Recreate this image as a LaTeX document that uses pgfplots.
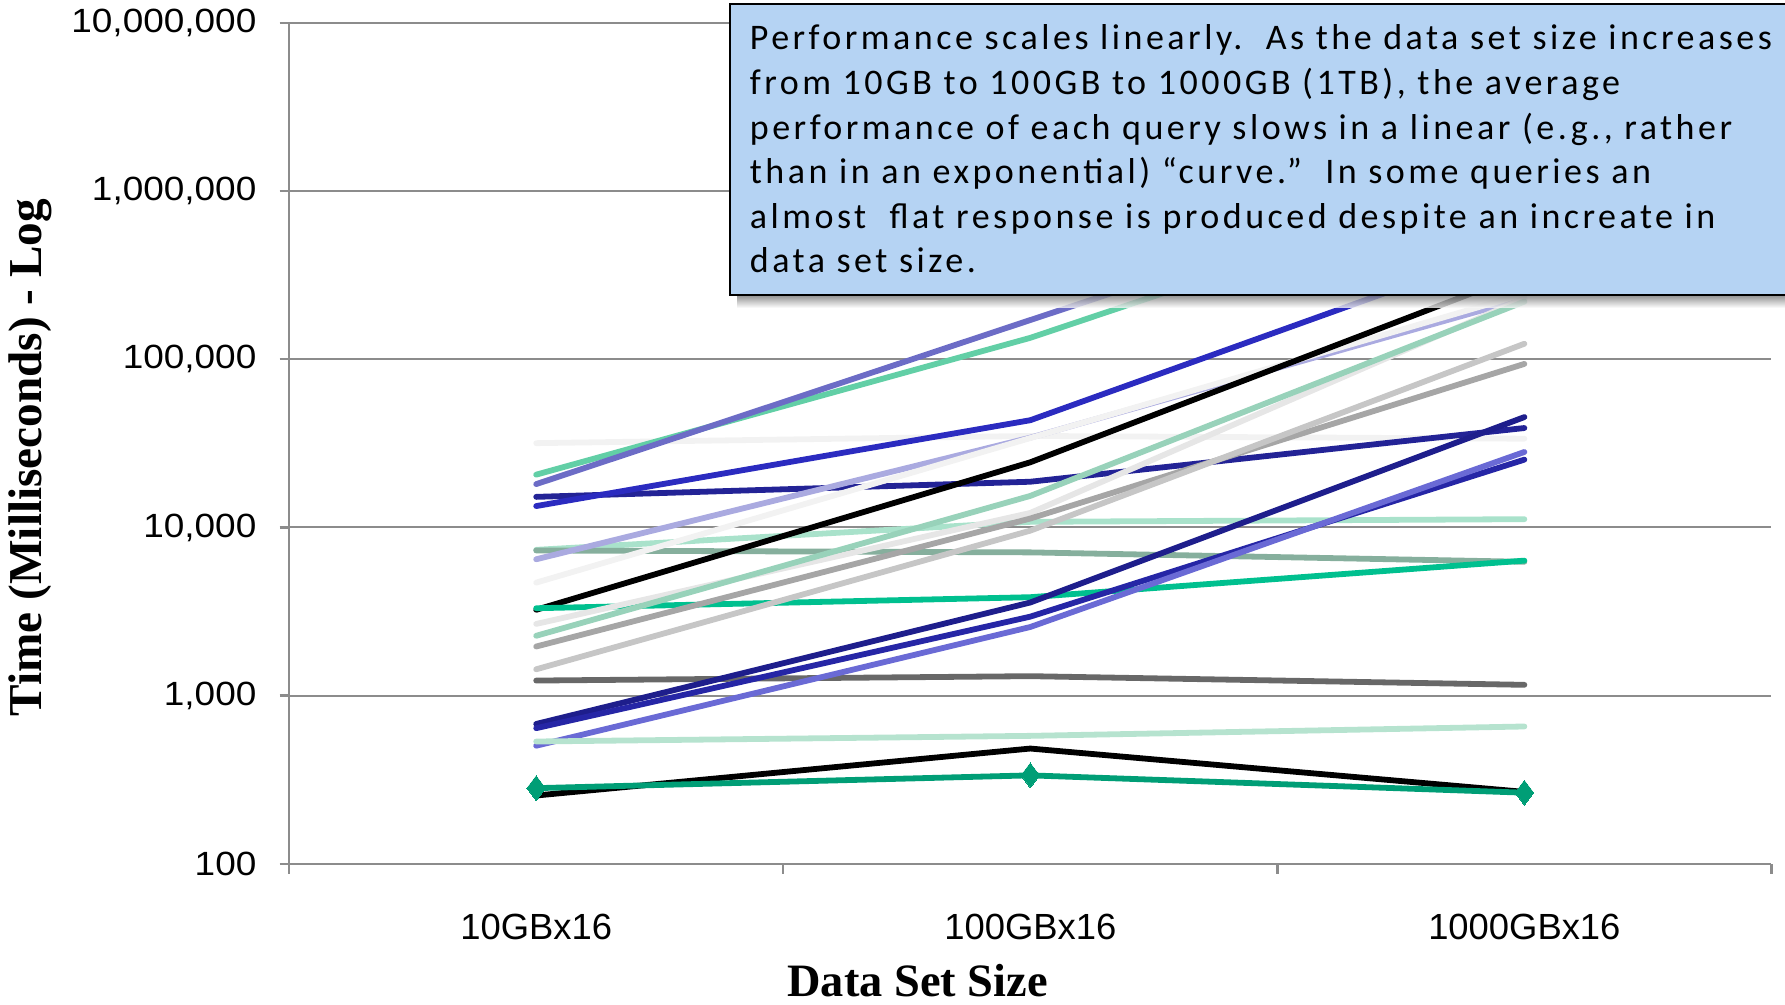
\documentclass[border=0pt]{standalone}
\usepackage{pgfplots}
\pgfplotsset{compat=1.18}
\usepackage{fontspec}
\setmainfont{Liberation Serif}
\newfontfamily\arial{Liberation Sans}
\newfontfamily\arialwide[FakeStretch=1.1]{Liberation Sans}
\newfontfamily\calibri[LetterSpace=9.7]{Carlito}

\definecolor{nearwhite}{HTML}{F2F2F2}
\definecolor{mintgreen}{HTML}{62CFA6}
\definecolor{slate}{HTML}{6C6CC6}
\definecolor{navyflat}{HTML}{232396}
\definecolor{royal}{HTML}{2B2BC0}
\definecolor{lightmint}{HTML}{A9E2CB}
\definecolor{graygreen}{HTML}{86AF9D}
\definecolor{lavender}{HTML}{AAAAE0}
\definecolor{teal}{HTML}{00C08F}
\definecolor{lightgray}{HTML}{E6E6E6}
\definecolor{midmint}{HTML}{98D2BA}
\definecolor{midgray}{HTML}{A6A6A6}
\definecolor{silver}{HTML}{C6C6C6}
\definecolor{darkgray}{HTML}{686868}
\definecolor{navy}{HTML}{1E1E8C}
\definecolor{navytwo}{HTML}{2626A6}
\definecolor{medslate}{HTML}{6A6AD5}
\definecolor{palemint}{HTML}{B6E3CF}
\definecolor{tealdark}{HTML}{009E76}
\definecolor{boxblue}{HTML}{B5D3F3}
\definecolor{gridgray}{HTML}{8C8C8C}

\begin{document}
\begin{tikzpicture}
\path[use as bounding box] (-72.3pt,-35.25pt) rectangle (374pt,216pt);
\begin{axis}[
  at={(0,0)}, anchor=south west,
  scale only axis,
  width=370.6pt, height=210.3pt,
  ymode=log,
  xmin=-0.5, xmax=2.5,
  ymin=100, ymax=10000000,
  axis x line*=bottom, axis y line*=left,
  axis line style={gridgray, line width=0.6pt},
  xtick={0,1,2},
  xticklabels={10GBx16,100GBx16,1000GBx16},
  minor xtick={-0.5,0.5,1.5,2.5},
  major x tick style={draw=none},
  minor x tick style={gridgray, line width=0.6pt},
  ytick={100,1000,10000,100000,1000000,10000000},
  yticklabels={100,{1,000},{10,000},{100,000},{1,000,000},{10,000,000}},
  minor y tick style={draw=none},
  y tick style={gridgray, line width=0.6pt},
  tick align=outside,
  major tick length=2.4pt, minor tick length=2.5pt,
  ymajorgrids,
  major grid style={gridgray, line width=0.5pt},
  xticklabel style={font=\arial\fontsize{9.1}{10}\selectfont, anchor=north, inner sep=0pt, yshift=-10pt},
  yticklabel style={font=\arialwide\fontsize{8.4}{10}\selectfont, anchor=east, inner sep=0pt, xshift=-5.6pt},
  xlabel={Data Set Size},
  ylabel={Time (Milliseconds) - Log},
  xlabel style={font=\bfseries\fontsize{11.6}{13}\selectfont, at={(axis description cs:0.424,-0.139)}, anchor=center},
  ylabel style={font=\bfseries\fontsize{11.8}{13}\selectfont, at={(axis description cs:-0.1743,0.483)}, anchor=center},
  every axis plot/.append style={line width=1.45pt, line cap=round, line join=round},
  clip=false,
]
\addplot[nearwhite] coordinates {(0,31700) (1,35000) (2,33700)};
\addplot[mintgreen] coordinates {(0,20600) (1,134000) (2,1300000)};
\addplot[slate] coordinates {(0,18100) (1,171000) (2,1600000)};
\addplot[navyflat] coordinates {(0,15200) (1,18700) (2,39000)};
\addplot[royal] coordinates {(0,13400) (1,43400) (2,490000)};
\addplot[lightmint] coordinates {(0,7360) (1,10800) (2,11200)};
\addplot[graygreen] coordinates {(0,7300) (1,7110) (2,6250)};
\addplot[lavender] coordinates {(0,6470) (1,34200) (2,230000)};
\addplot[nearwhite] coordinates {(0,4700) (1,34000) (2,245000)};
\addplot[black] coordinates {(0,3240) (1,24400) (2,325000)};
\addplot[teal] coordinates {(0,3310) (1,3850) (2,6350)};
\addplot[lightgray] coordinates {(0,2670) (1,12200) (2,230000)};
\addplot[midmint] coordinates {(0,2270) (1,15400) (2,220000)};
\addplot[midgray] coordinates {(0,1960) (1,11300) (2,93800)};
\addplot[silver] coordinates {(0,1435) (1,9570) (2,123600)};
\addplot[darkgray] coordinates {(0,1230) (1,1306) (2,1160)};
\addplot[navy] coordinates {(0,679) (1,3580) (2,45300)};
\addplot[navytwo] coordinates {(0,641) (1,2950) (2,25300)};
\addplot[medslate] coordinates {(0,504) (1,2560) (2,28100)};
\addplot[palemint] coordinates {(0,534) (1,577) (2,656)};
\addplot[black] coordinates {(0,255) (1,485) (2,268)};
\addplot[tealdark, mark=diamond*, mark size=3.1pt, mark options={solid, fill=tealdark, line width=0pt}] coordinates {(0,282) (1,336) (2,265)};
\end{axis}
% callout box with shadow
\shade[top color=black!55, bottom color=white, opacity=0.8] (112pt,142.3pt) rectangle (400pt,139pt);
\draw[fill=boxblue, line width=0.5pt] (110.1pt,142.3pt) rectangle (400pt,214.9pt);
\node[anchor=north west, align=left, inner sep=0pt, font=\calibri\fontsize{9}{11.16}\selectfont] at (115pt,210pt)
 {Performance scales linearly.\ \ As the data set size increases\\
  from 10GB to 100GB to 1000GB (1TB), the average\\
  performance of each query slows in a linear (e.g., rather\\
  than in an exponential) “curve.”\ \ In some queries an\\
  almost\ \ flat response is produced despite an increate in\\
  data set size.};
\end{tikzpicture}
\end{document}
